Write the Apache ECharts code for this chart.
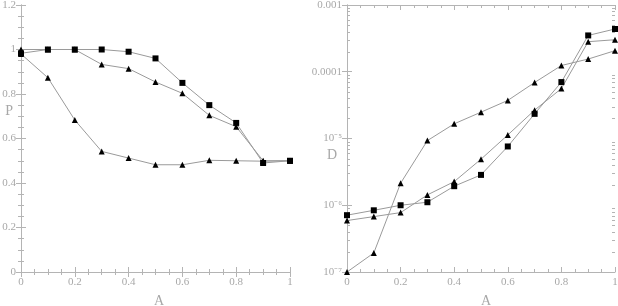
<!DOCTYPE html>
<html>
<head>
<meta charset="utf-8">
<script src="https://cdn.jsdelivr.net/npm/echarts@6/dist/echarts.min.js"></script>
<style>html,body{margin:0;padding:0;background:#fff}#c{width:618px;height:306px}</style>
</head>
<body>
<div id="c"></div>
<script>
// ---- data ----
const aValues = [0, 0.1, 0.2, 0.3, 0.4, 0.5, 0.6, 0.7, 0.8, 0.9, 1.0];
// Left panel: P vs A
const pSquares   = [0.983, 1.0, 1.0, 1.0, 0.99, 0.96, 0.85, 0.75, 0.67, 0.49, 0.50];
const pTriUpper  = [1.0, 1.0, 1.0, 0.933, 0.914, 0.854, 0.803, 0.704, 0.653, 0.50, 0.50];
const pTriLower  = [0.98, 0.873, 0.683, 0.542, 0.512, 0.482, 0.482, 0.502, 0.50, 0.498, 0.50];
// Right panel: D vs A (log scale)
const dSquares   = [7.1e-7, 8.4e-7, 1.0e-6, 1.11e-6, 1.93e-6, 2.85e-6, 7.6e-6, 2.34e-5, 7.0e-5, 3.5e-4, 4.37e-4];
const dTriLower  = [5.9e-7, 6.76e-7, 7.76e-7, 1.43e-6, 2.26e-6, 4.9e-6, 1.13e-5, 2.66e-5, 5.6e-5, 2.82e-4, 3.02e-4];
const dTriSteep  = [1.0e-7, 1.93e-7, 2.14e-6, 9.3e-6, 1.66e-5, 2.48e-5, 3.72e-5, 6.9e-5, 1.24e-4, 1.55e-4, 2.07e-4];
// tick labels
const dTickLabels = ['10\u207B\u2077', '10\u207B\u2076', '10\u207B\u2075', '0.0001', '0.001']; // exponents -7..-3
const logDecades = [-7, -6, -5, -4];
const logMinorMultipliers = [2, 3, 4, 5, 6, 7, 8, 9];

// ---- styling ----
const FONT = 'Liberation Serif';
const LABEL_COLOR = '#a8a8a8';
const AXIS_COLOR = '#b4b4b4';
const LINE_COLOR = '#9a9a9a';

function pairs(ys) { return aValues.map((x, i) => [x, ys[i]]); }

function xAxisPair(gridIndex, nameOffset) {
  const base = {
    gridIndex, type: 'value', min: 0, max: 1, interval: 0.2,
    axisLine: { show: true, lineStyle: { color: AXIS_COLOR, width: 1 } },
    axisTick: { show: true, inside: true, length: 5, lineStyle: { color: AXIS_COLOR } },
    minorTick: { show: true, splitNumber: 4, length: 3, lineStyle: { color: AXIS_COLOR } },
    splitLine: { show: false }, minorSplitLine: { show: false }
  };
  return [
    Object.assign({}, base, {
      position: 'bottom',
      name: 'A', nameLocation: 'middle', nameGap: 22, nameMoveOverlap: false,
      nameTextStyle: { fontFamily: FONT, fontSize: 14, color: LABEL_COLOR, padding: [0, 0, 0, nameOffset] },
      axisLabel: { show: true, margin: 5, fontFamily: FONT, fontSize: 11, color: LABEL_COLOR }
    }),
    Object.assign({}, base, { position: 'top', axisLabel: { show: false } })
  ];
}

const leftY = {
  gridIndex: 0, type: 'value', min: 0, max: 1.2, interval: 0.2,
  axisLine: { show: true, lineStyle: { color: AXIS_COLOR, width: 1 } },
  axisTick: { show: true, inside: true, length: 5, lineStyle: { color: AXIS_COLOR } },
  minorTick: { show: true, splitNumber: 4, length: 3, lineStyle: { color: AXIS_COLOR } },
  splitLine: { show: false }
};

const rightY = {
  gridIndex: 1, type: 'log', logBase: 10, min: 1e-7, max: 1e-3,
  axisLine: { show: true, lineStyle: { color: AXIS_COLOR, width: 1 } },
  axisTick: { show: true, inside: true, length: 5, lineStyle: { color: AXIS_COLOR } },
  minorTick: { show: false },
  splitLine: { show: false }
};

function logLabel(v) {
  const e = Math.round(Math.log10(v));
  const idx = e + 7;
  return dTickLabels[idx] !== undefined ? dTickLabels[idx] : '';
}

const minorTickData = [];
logDecades.forEach(e => logMinorMultipliers.forEach(m => minorTickData.push([0.5, m * Math.pow(10, e)])));

const symBlack = { color: '#000' };
function lineSeries(xi, yi, data, symbol, size) {
  return {
    type: 'line', xAxisIndex: xi, yAxisIndex: yi, data,
    symbol, symbolSize: size, showAllSymbol: true,
    lineStyle: { color: LINE_COLOR, width: 1 },
    itemStyle: symBlack, animation: false, silent: true
  };
}

const chart = echarts.init(document.getElementById('c'), null, { renderer: 'canvas' });
const [lxb, lxt] = xAxisPair(0, 7);
const [rxb, rxt] = xAxisPair(1, 10);
chart.setOption({
  animation: false,
  textStyle: { fontFamily: FONT },
  grid: [
    { left: 21, top: 5, width: 269, height: 267, containLabel: false, outerBoundsMode: 'none' },
    { left: 347, top: 5, width: 268, height: 267, containLabel: false, outerBoundsMode: 'none' }
  ],
  xAxis: [lxb, lxt, rxb, rxt],
  yAxis: [
    Object.assign({}, leftY, {
      position: 'left', name: 'P\n\n\n', nameLocation: 'middle', nameRotate: 0, nameGap: 8, nameMoveOverlap: false,
      nameTextStyle: { fontFamily: FONT, fontSize: 14, lineHeight: 18, color: LABEL_COLOR },
      axisLabel: { show: true, margin: 5, fontFamily: FONT, fontSize: 11, color: LABEL_COLOR }
    }),
    Object.assign({}, leftY, { position: 'right', axisLabel: { show: false } }),
    Object.assign({}, rightY, {
      position: 'left', name: '\n\nD', nameLocation: 'middle', nameRotate: 0, nameGap: 10, nameMoveOverlap: false,
      nameTextStyle: { fontFamily: FONT, fontSize: 14, lineHeight: 17, color: LABEL_COLOR },
      axisLabel: { show: true, margin: 5, fontFamily: FONT, fontSize: 11, color: LABEL_COLOR, formatter: logLabel }
    }),
    Object.assign({}, rightY, { position: 'right', axisLabel: { show: false } })
  ],
  series: [
    lineSeries(0, 0, pairs(pTriLower), 'triangle', 6),
    lineSeries(0, 0, pairs(pTriUpper), 'triangle', 6),
    lineSeries(0, 0, pairs(pSquares), 'rect', 6),
    lineSeries(2, 2, pairs(dTriSteep), 'triangle', 6),
    lineSeries(2, 2, pairs(dTriLower), 'triangle', 6),
    lineSeries(2, 2, pairs(dSquares), 'rect', 6),
    {
      type: 'custom', coordinateSystem: 'cartesian2d', xAxisIndex: 2, yAxisIndex: 2,
      data: minorTickData, silent: true, clip: false, z: 1,
      encode: { x: 0, y: 1 },
      renderItem: function (params, api) {
        const v = api.value(1);
        const p1 = api.coord([0, v]);
        const p2 = api.coord([1, v]);
        const st = { stroke: AXIS_COLOR, lineWidth: 1 };
        const y = Math.round(p1[1]) + 0.5;
        return {
          type: 'group',
          children: [
            { type: 'line', shape: { x1: p1[0], y1: y, x2: p1[0] + 3, y2: y }, style: st },
            { type: 'line', shape: { x1: p2[0], y1: y, x2: p2[0] - 3, y2: y }, style: st }
          ]
        };
      }
    }
  ]
});
</script>
</body>
</html>
